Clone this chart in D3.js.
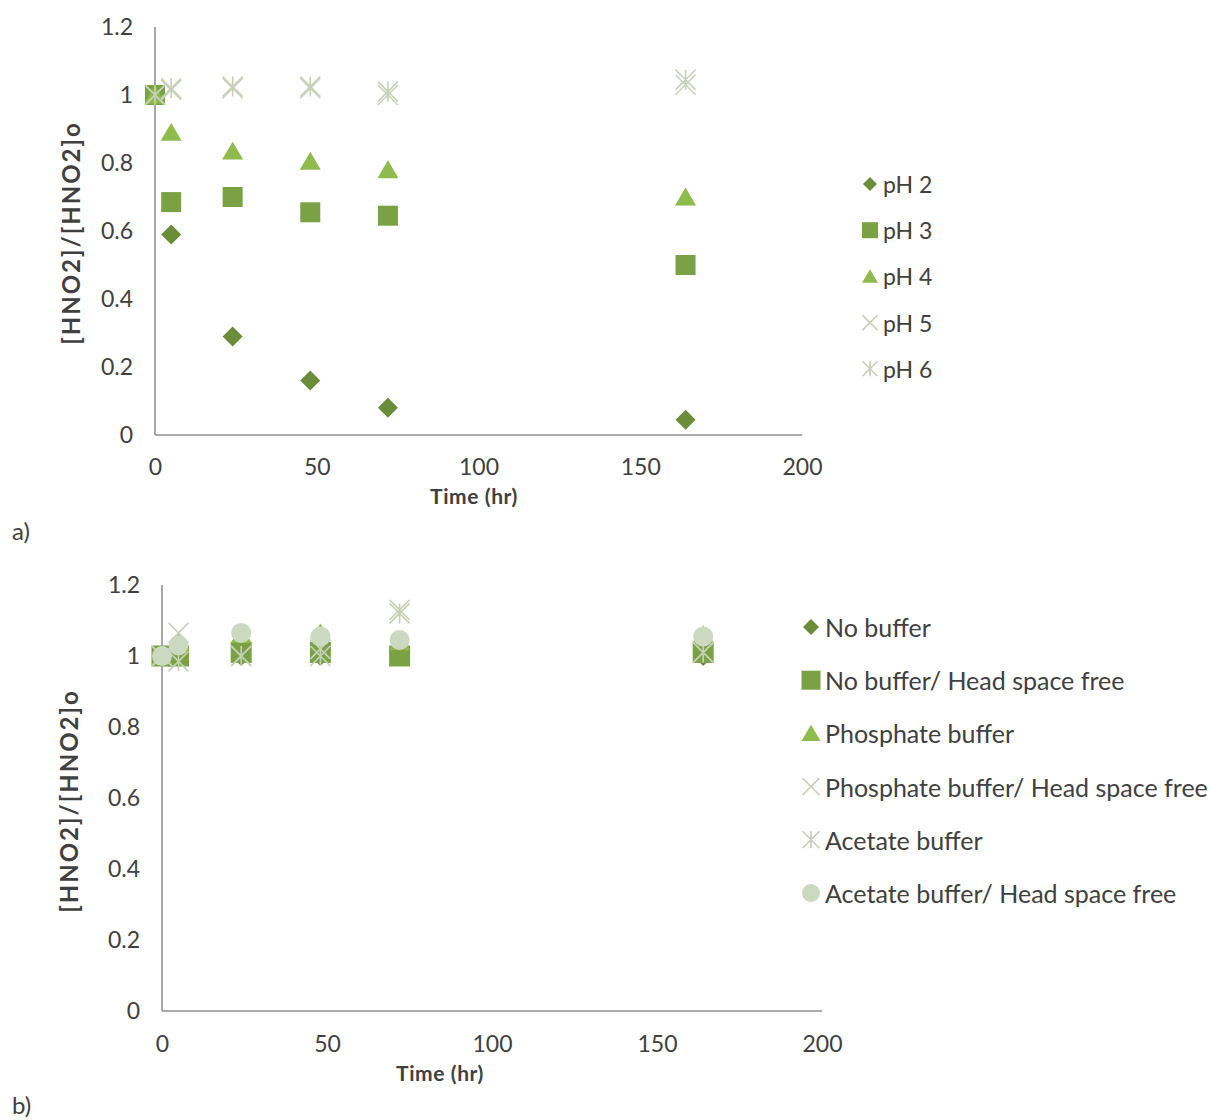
<!DOCTYPE html>
<html>
<head>
<meta charset="utf-8">
<script src="https://cdn.jsdelivr.net/npm/d3@7"></script>
<style>
  html, body { margin: 0; padding: 0; background: #fff; }
  svg { display: block; }
  text { font-family: Lato, "Open Sans", sans-serif; fill: #404040; }
</style>
</head>
<body>
<svg id="chart" width="1210" height="1120"></svg>
<script>
// ---- Data -------------------------------------------------------------
const times = [0, 5, 24, 48, 72, 164];
const xTicks = [0, 50, 100, 150, 200];
const yTicks = [0, 0.2, 0.4, 0.6, 0.8, 1, 1.2];

// Panel a: effect of pH
const seriesA = ["pH 2", "pH 3", "pH 4", "pH 5", "pH 6"];
const pH2 = [1.0, 0.59, 0.29, 0.16, 0.08, 0.045];
const pH3 = [1.0, 0.685, 0.70, 0.655, 0.645, 0.50];
const pH4 = [1.0, 0.89, 0.835, 0.805, 0.78, 0.70];
const pH5 = [1.0, 1.015, 1.02, 1.02, 1.0, 1.03];
const pH6 = [1.0, 1.02, 1.025, 1.025, 1.01, 1.045];

// Panel b: effect of buffer and head space
const seriesB = ["No buffer", "No buffer/ Head space free", "Phosphate buffer",
                 "Phosphate buffer/ Head space free", "Acetate buffer",
                 "Acetate buffer/ Head space free"];
const noBuffer      = [1.0, 1.0, 1.0, 1.0, 1.0, 1.0];
const noBufferHS    = [1.0, 1.0, 1.01, 1.01, 1.0, 1.01];
const phosphate     = [1.0, 1.04, 1.06, 1.065, 1.04, 1.06];
const phosphateHS   = [1.0, 1.065, 1.0, 1.02, 1.13, 1.01];
const acetate       = [1.0, 0.985, 1.0, 1.0, 1.12, 1.01];
const acetateHS     = [1.0, 1.03, 1.065, 1.055, 1.045, 1.055];

// ---- Marker styles ----------------------------------------------------
const styles = {
  diamond:  { fill: "#6b8d3a", stroke: "none" },
  square:   { fill: "#7ba145", stroke: "none" },
  triangle: { fill: "#8fba4c", stroke: "none" },
  cross:    { fill: "none", stroke: "#c8d2bc" },
  star:     { fill: "none", stroke: "#c6d0b8" },
  circle:   { fill: "#cbd9c0", stroke: "none" }
};

function markerPath(shape, s) {
  const h = s / 2;
  switch (shape) {
    case "diamond": return `M0,${-h}L${h},0L0,${h}L${-h},0Z`;
    case "square": return `M${-h},${-h}H${h}V${h}H${-h}Z`;
    case "triangle": return `M0,${-h * 0.9}L${h},${h * 0.8}L${-h},${h * 0.8}Z`;
    case "cross": return `M${-h},${-h}L${h},${h}M${h},${-h}L${-h},${h}`;
    case "star": return `M${-h},${-h}L${h},${h}M${h},${-h}L${-h},${h}M0,${-h}V${h}`;
    case "circle": return d3.arc()({ innerRadius: 0, outerRadius: h, startAngle: 0, endAngle: 2 * Math.PI });
  }
}

function drawMarker(g, shape, size) {
  const st = styles[shape];
  return g.append("path")
    .attr("d", markerPath(shape, size))
    .attr("fill", st.fill)
    .attr("stroke", st.stroke)
    .attr("stroke-width", st.stroke === "none" ? 0 : 1.6);
}

const svg = d3.select("#chart");

function panel(cfg) {
  const x = d3.scaleLinear().domain([0, 200]).range([cfg.x0, cfg.x1]);
  const y = d3.scaleLinear().domain([0, 1.2]).range([cfg.y0, cfg.y1]);
  const g = svg.append("g");

  // axes: plain grey domain lines, no tick marks
  const xAxis = g.append("g").attr("transform", `translate(0,${cfg.y0})`)
    .call(d3.axisBottom(x).tickValues(xTicks).tickSize(0).tickPadding(cfg.xPad).tickFormat(d3.format("d")));
  const yAxis = g.append("g").attr("transform", `translate(${cfg.x0},0)`)
    .call(d3.axisLeft(y).tickValues(yTicks).tickSize(0).tickPadding(cfg.yPad).tickFormat(d => d3.format("")(+d.toFixed(1))));
  [xAxis, yAxis].forEach(a => {
    a.select(".domain").attr("stroke", "#8c8c8c").attr("stroke-width", 1.5);
    a.selectAll("text").attr("font-size", 23).attr("fill", "#404040").attr("font-family", "Lato, sans-serif");
  });
  yAxis.select(".domain").attr("d", `M0,${y(1.2)}V${cfg.y0}`);
  xAxis.select(".domain").attr("d", `M${cfg.x0},0H${cfg.x1}`);

  // titles
  g.append("text").attr("x", cfg.titleX).attr("y", cfg.titleY)
    .attr("text-anchor", "middle").attr("font-size", 21).attr("font-weight", 700)
    .attr("letter-spacing", 0.6)
    .attr("fill", "#303030").text("Time (hr)");
  g.append("text").attr("transform", `translate(${cfg.ytX},${cfg.ytY}) rotate(-90)`)
    .attr("text-anchor", "middle").attr("dominant-baseline", "central")
    .attr("font-size", 24).attr("font-weight", 700).attr("fill", "#303030")
    .attr("letter-spacing", 2)
    .text("[HNO2]/[HNO2]o");

  // points
  cfg.series.forEach(s => {
    const sg = g.append("g");
    s.values.forEach((v, i) => {
      const m = sg.append("g").attr("transform", `translate(${x(times[i])},${y(v)})`);
      drawMarker(m, s.shape, s.size);
    });
  });

  // legend
  cfg.series.forEach((s, i) => {
    const ly = cfg.legY + i * cfg.legStep;
    const m = g.append("g").attr("transform", `translate(${cfg.legX},${ly})`);
    drawMarker(m, s.shape, s.legSize);
    g.append("text").attr("x", cfg.legX + cfg.legGap).attr("y", ly)
      .attr("dominant-baseline", "central").attr("font-size", cfg.legFont)
      .attr("fill", "#303030").text(s.name);
  });

  // panel tag
  svg.append("text").attr("x", 12).attr("y", cfg.tagY)
    .attr("font-family", "'Liberation Serif', 'Times New Roman', serif")
    .attr("font-size", 24).attr("fill", "#000").text(cfg.tag);
}

panel({
  x0: 155, x1: 802, y0: 435, y1: 27, xPad: 24, yPad: 22,
  titleX: 474, titleY: 504, ytX: 70, ytY: 233,
  legX: 870, legY: 184, legStep: 46.2, legGap: 13, legFont: 23,
  tagY: 540, tag: "a)",
  series: [
    { name: seriesA[0], values: pH2, shape: "diamond", size: 20, legSize: 14 },
    { name: seriesA[1], values: pH3, shape: "square", size: 20, legSize: 16 },
    { name: seriesA[2], values: pH4, shape: "triangle", size: 21, legSize: 16 },
    { name: seriesA[3], values: pH5, shape: "cross", size: 20, legSize: 15 },
    { name: seriesA[4], values: pH6, shape: "star", size: 20, legSize: 15 }
  ]
});

panel({
  x0: 162, x1: 822, y0: 1011, y1: 585, xPad: 25, yPad: 22,
  titleX: 440, titleY: 1081, ytX: 68, ytY: 801,
  legX: 811, legY: 627, legStep: 53.2, legGap: 14, legFont: 25,
  tagY: 1114, tag: "b)",
  series: [
    { name: seriesB[0], values: noBuffer, shape: "diamond", size: 20, legSize: 16 },
    { name: seriesB[1], values: noBufferHS, shape: "square", size: 21, legSize: 19 },
    { name: seriesB[2], values: phosphate, shape: "triangle", size: 21, legSize: 19 },
    { name: seriesB[3], values: phosphateHS, shape: "cross", size: 20, legSize: 17 },
    { name: seriesB[4], values: acetate, shape: "star", size: 20, legSize: 17 },
    { name: seriesB[5], values: acetateHS, shape: "circle", size: 20, legSize: 18 }
  ]
});
</script>
</body>
</html>
